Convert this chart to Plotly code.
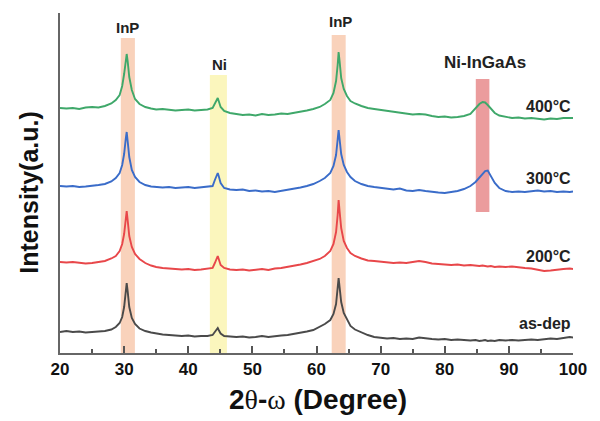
import plotly.graph_objects as go

# 2theta grid (degrees)
two_theta = [20, 21, 22, 23, 24, 25, 26, 27, 28, 28.7, 29.3, 29.7, 30.0, 30.25, 30.4, 30.55, 30.8, 31.2, 31.7, 32.4,
             33.3, 34.2, 35, 36, 37, 38, 39, 40, 41, 42, 43, 43.8, 44.15, 44.45, 44.6, 44.75, 45.05, 45.6, 46.5, 47.5,
             48.5, 49.5, 50.5, 51.5, 52.5, 53.5, 54.5, 55.5, 56.5, 57.5, 58.5, 59.5, 60.5, 61.3, 62.15, 62.65, 63.05, 63.3,
             63.45, 63.6, 63.85, 64.25, 64.75, 65.3, 66, 67, 68, 69, 70, 71, 72, 73, 74, 75, 76, 77, 78, 79, 80, 81, 82,
             83, 84, 84.8, 85.4, 85.9, 86.3, 86.7, 87.2, 87.8, 88.5, 89.5, 90.5, 91.5, 92.5, 93.5, 94.5, 95.5, 96.5,
             97.5, 98.5, 99.5, 100]

# intensities (a.u., offset stacked)
i_asdep = [21, 22, 21, 21.5, 20.5, 21, 21.5, 22, 23.5, 26, 30, 36, 46, 62, 70, 62, 46, 35, 29, 24.5,
           22, 20.5, 19.5, 18.5, 18, 17.5, 17, 17.5, 16.5, 17, 17, 18, 21, 24.5, 25, 23, 19.5, 17, 16.5, 16,
           16.5, 15.5, 16, 17, 16, 17, 17.5, 18, 19, 20, 21.5, 23, 26, 29, 33, 39, 49, 63,
           75, 66, 51, 40, 33, 27, 23.5, 20.5, 18, 16, 15, 14.5, 15, 14, 14.5, 14, 15.5, 14.5, 14, 13.5, 14, 13, 13.5,
           13, 12.5, 13, 12, 12.5, 13, 12, 12.5, 12, 13, 12.5, 13, 12.5, 13, 13.5, 13, 14, 14.5,
           14, 15, 16, 15.5]
i_200 = [91, 90.5, 91, 90, 89.5, 90, 91, 92, 94.5, 97, 102, 109, 119, 134, 142, 133, 117, 106, 99, 94,
         90, 87.5, 86, 85, 84.5, 84, 83.5, 84, 83, 83.5, 84, 85, 90, 96, 97, 94, 88, 85, 83.5, 83,
         83.5, 82.5, 83, 84, 83, 84.5, 85, 86, 87, 88.5, 90, 92, 94, 97, 102, 109, 121, 138,
         153, 142, 125, 112, 105, 100, 97, 94.5, 92.5, 92, 91.5, 91, 90, 90.5, 90, 91, 92, 91, 89.5, 89, 88.5, 88, 88.5,
         87.5, 88, 87.5, 87, 87.5, 87, 86.5, 87, 86, 86.5, 86, 86.5, 85.5, 85, 84.5, 83.5, 82, 82.5,
         83.5, 84, 84.5, 84]
i_300 = [167, 166.5, 167, 166, 166.5, 167, 168, 169, 171.5, 175, 180, 188, 199, 214, 221, 212, 196, 183, 176, 171,
         168, 166.5, 166, 165.5, 166, 165, 165.5, 166, 165, 165.5, 166, 167, 173, 179, 180, 177, 170, 165, 163.5, 163,
         163.5, 162, 162.5, 161.5, 162, 161, 162, 163, 164, 165.5, 167, 169, 172, 175, 180, 187, 198, 212,
         223, 214, 199, 188, 181, 176, 172, 169, 167, 166, 165, 164.5, 163.5, 164.5, 162.5, 162, 163, 162, 161, 160.5, 160, 161, 162,
         164, 167, 171, 175, 179, 182, 182.5, 177, 170, 165, 162, 161, 161.5, 161, 162, 162.5, 161.5, 162,
         161, 161.5, 161, 161.5]
i_400 = [245, 244.5, 245, 244, 245.5, 246, 245.5, 247, 249.5, 253, 258, 267, 279, 294, 299, 292, 276, 263, 254, 249,
         246, 244.5, 243.5, 244, 243, 242.5, 243, 243.5, 242.5, 243, 243.5, 245, 250, 254.5, 255, 252, 246, 242, 240, 239,
         238, 238.5, 237.5, 239, 238, 238.5, 239.5, 239, 240, 241, 242.5, 244, 246, 249, 253, 260, 272, 288,
         301, 292, 275, 264, 257, 252, 249.5, 247, 245, 244, 243, 242, 241, 240.5, 239.5, 238.5, 239, 238.5, 237, 236, 236.5, 235.5, 236,
         237, 239, 245, 249, 251, 250.5, 248, 244, 240, 237.5, 236, 235, 235.5, 234.5, 235, 234, 233.5, 234.5,
         234, 235, 235.5, 235]

series_names = ["as-dep", "200°C", "300°C", "400°C"]
series_values = [i_asdep, i_200, i_300, i_400]
series_colors = ["#4a4a4a", "#e8474a", "#3a6cc9", "#3fa86a"]
series_label_y = [30, 97, 175, 247]

# phase bands
band_labels = ["InP", "Ni", "InP", "Ni-InGaAs"]
band_label_size = [15, 15, 15, 17]
band_centers = [30.58, 44.7, 63.46, 85.9]
band_half = [1.1, 1.33, 1.09, 1.06]
band_bottom = [0, 0, 0, 141]
band_top = [315, 278, 318, 274]
band_colors = ["#f9d2bb", "#fbf6bd", "#eb9c9d"]
band_color_idx = [0, 1, 0, 2]
band_label_y = [326, 289, 332, 291]
band_label_x = [30.6, 44.9, 63.7, 86.3]

FONT = "Liberation Sans"

fig = go.Figure()

shapes = []
for c, h, b, t, ci in zip(band_centers, band_half, band_bottom, band_top, band_color_idx):
    shapes.append(dict(type="rect", xref="x", yref="y", x0=c - h, x1=c + h, y0=b, y1=t,
                       fillcolor=band_colors[ci], line=dict(width=0), layer="below"))

for name, vals, col in zip(series_names, series_values, series_colors):
    fig.add_trace(go.Scatter(x=two_theta, y=vals, mode="lines", name=name,
                             line=dict(color=col, width=1.9), showlegend=False))

ann = []
for lab, x, y, s in zip(band_labels, band_label_x, band_label_y, band_label_size):
    ann.append(dict(x=x, y=y, xref="x", yref="y", text=lab, showarrow=False,
                    font=dict(family=FONT, size=s, color="#222", weight="bold")))
for name, y in zip(series_names, series_label_y):
    ann.append(dict(x=100, y=y, xref="x", yref="y", text=name, showarrow=False, xanchor="right",
                    yanchor="middle",
                    font=dict(family=FONT, size=16, color="#222", weight="bold")))
ann.append(dict(x=-0.062, y=0.472, xref="paper", yref="paper", text="Intensity(a.u.)", textangle=-90,
                showarrow=False, xanchor="center", yanchor="middle",
                font=dict(family=FONT, size=25, color="#111", weight="bold")))
ann.append(dict(x=0.503, y=-0.138, xref="paper", yref="paper",
                text="2<span style='font-family:Liberation Serif;font-weight:normal'>θ</span>-"
                     "<span style='font-family:Liberation Serif;font-weight:normal'>ω</span> (Degree)",
                showarrow=False, xanchor="center", yanchor="middle",
                font=dict(family=FONT, size=28, color="#111", weight="bold")))

fig.update_layout(
    width=600, height=421,
    margin=dict(l=52, r=35, t=5, b=76),
    paper_bgcolor="white", plot_bgcolor="white",
    shapes=shapes, annotations=ann,
    xaxis=dict(range=[20, 100], tickvals=[20, 30, 40, 50, 60, 70, 80, 90, 100],
               ticks="inside", ticklen=7, tickwidth=1.5, tickcolor="#555",
               minor=dict(tickvals=[25, 35, 45, 55, 65, 75, 85, 95], ticks="inside", ticklen=4,
                          tickwidth=1.5, tickcolor="#555"),
               showline=True, linecolor="#666", linewidth=1.5, showgrid=False, zeroline=False,
               tickfont=dict(family=FONT, size=17, color="#111", weight="bold")),
    yaxis=dict(range=[0, 340], showline=True, linecolor="#666", linewidth=1.5, showgrid=False,
               zeroline=False, showticklabels=False, ticks=""),
)

fig.write_html("out.html")
